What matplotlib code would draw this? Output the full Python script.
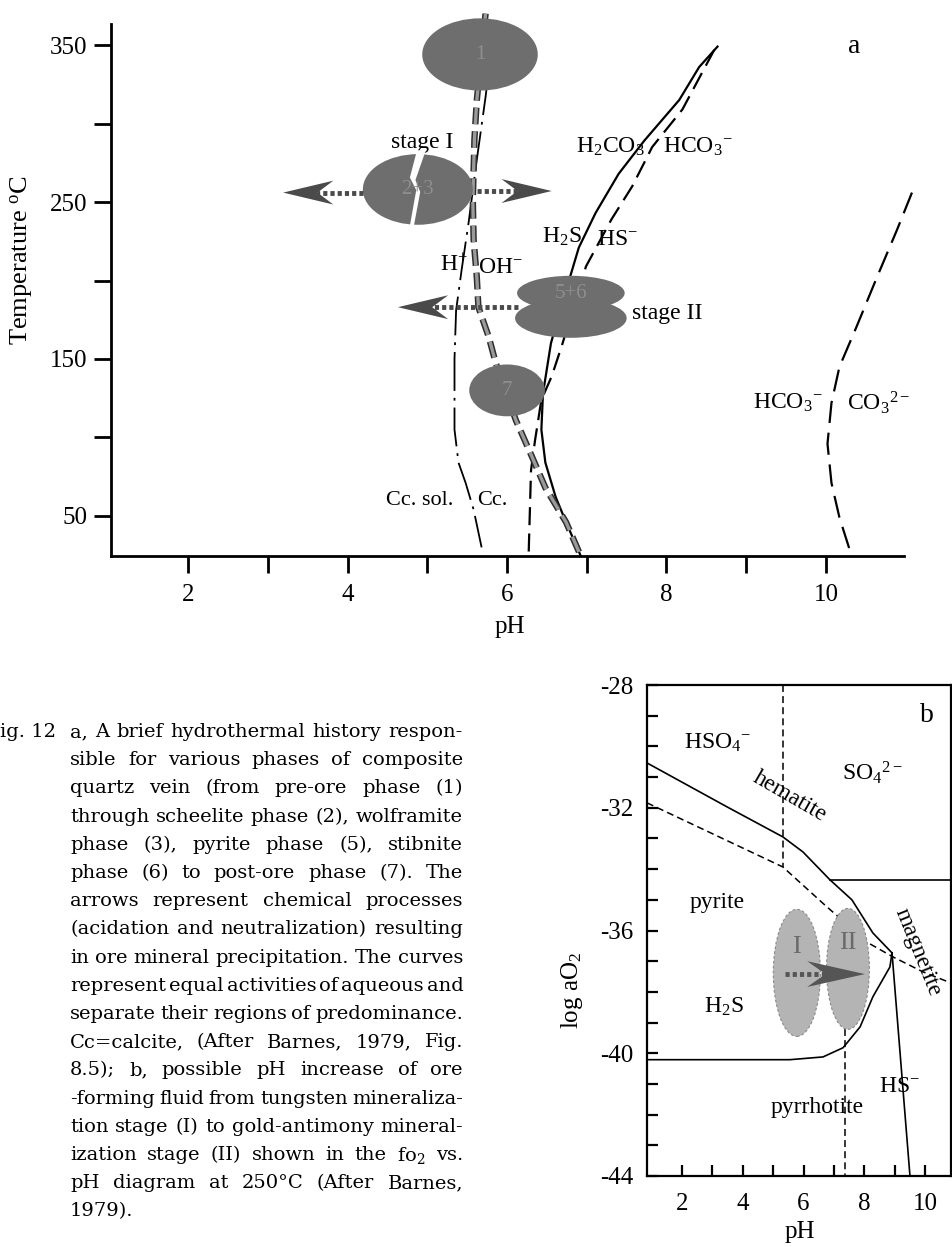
import matplotlib
matplotlib.use("Agg")
import matplotlib.pyplot as plt
from matplotlib.patches import Ellipse, Polygon

plt.rcParams["font.family"] = ["Liberation Serif", "STIXGeneral", "DejaVu Serif"]
plt.rcParams["mathtext.fontset"] = "stix"
plt.rcParams["mathtext.default"] = "regular"
plt.rcParams["axes.unicode_minus"] = False
plt.rcParams["lines.scale_dashes"] = False

# ---------------- panel a: T (degC) vs pH ----------------
cc_ph = [5.76, 5.73, 5.62, 5.52, 5.43, 5.36, 5.34, 5.34, 5.39, 5.48, 5.58, 5.68]
cc_t = [330, 317, 277, 238, 207, 181, 150, 105, 84, 71, 54, 30]

water_ph = [5.73, 5.62, 5.59, 5.57, 5.58, 5.62, 5.64, 5.77, 5.86, 6.11, 6.31, 6.48, 6.74, 6.92]
water_t = [370, 315, 290, 251, 226, 202, 183, 164, 147, 111, 88, 68, 46, 25]

h2s_ph = [8.64, 8.41, 8.16, 7.72, 7.40, 7.11, 6.90, 6.80, 6.67, 6.55, 6.45, 6.43, 6.48, 6.61, 6.74, 6.92]
h2s_t = [349, 336, 315, 289, 268, 243, 221, 204, 182, 160, 128, 105, 84, 62, 46, 25]

h2co3_ph = [8.60, 8.20, 7.82, 7.57, 7.31, 6.99, 6.69, 6.56, 6.43, 6.35, 6.30, 6.27]
h2co3_t = [347, 309, 285, 260, 239, 209, 159, 139, 124, 98, 79, 25]

hco3_ph = [11.08, 10.89, 10.64, 10.38, 10.17, 10.07, 10.02, 10.07, 10.17, 10.32]
hco3_t = [256, 232, 202, 170, 145, 122, 96, 71, 49, 25]

# phase ellipses: label, pH, T, width, height
phases_a = [("1", 5.66, 344, 1.45, 46),
            ("2+3", 4.88, 258, 1.38, 45),
            ("", 6.80, 176, 1.40, 25),
            ("5+6", 6.80, 192, 1.35, 22),
            ("7", 6.00, 130, 0.95, 33)]
split_ph = [4.87, 4.78, 4.86, 4.77, 4.82, 4.91, 4.85, 4.98]
split_t = [283, 265.6, 257.6, 232, 232, 256.4, 264, 283]

# process arrows: start pH, tip pH, T
arrows_a = [(4.19, 3.19, 256), (5.62, 6.56, 257), (6.14, 4.63, 183)]

# ---------------- panel b: log aO2 vs pH ----------------
py_hso4_ph = [0.85, 3.48, 5.32, 5.98, 6.87, 7.59, 8.28, 8.91]
py_hso4_y = [-30.54, -31.97, -32.95, -33.44, -34.35, -35.0, -36.08, -36.73]
hs_ph = [8.91, 9.50]
hs_y = [-36.73, -44.0]
po_ph = [8.91, 8.84, 8.28, 7.86, 7.30, 6.64, 5.55, 0.85]
po_y = [-36.73, -37.19, -38.16, -39.14, -39.82, -40.12, -40.21, -40.21]
mt_ph = [6.87, 10.85]
mt_y = [-34.35, -34.35]
hem_ph = [0.85, 5.32, 6.70, 8.12, 8.94, 9.93, 10.85]
hem_y = [-31.84, -33.93, -35.17, -36.40, -36.86, -37.35, -37.71]
vd1_ph, vd1_y = [5.32, 5.32], [-28.0, -33.93]
vd2_ph, vd2_y = [7.35, 7.35], [-39.2, -44.0]

phases_b = [("I", 5.78, -37.38, 1.55, 4.14), ("II", 7.46, -37.25, 1.41, 3.94)]
arrow_b = (5.39, 8.02, -37.42)

caption = [
    "a, A brief hydrothermal history respon-",
    "sible for various phases of composite",
    "quartz vein (from pre-ore phase (1)",
    "through scheelite phase (2), wolframite",
    "phase (3), pyrite phase (5), stibnite",
    "phase (6) to post-ore phase (7). The",
    "arrows represent chemical processes",
    "(acidation and neutralization) resulting",
    "in ore mineral precipitation. The curves",
    "represent equal activities of aqueous and",
    "separate their regions of predominance.",
    "Cc=calcite, (After Barnes, 1979, Fig.",
    "8.5); b, possible pH increase of ore",
    "-forming fluid from tungsten mineraliza-",
    "tion stage (I) to gold-antimony mineral-",
    "ization stage (II) shown in the fo$_2$ vs.",
    "pH diagram at 250\u00b0C (After Barnes,",
    "1979).",
]

W, H = 952, 1247
fig = plt.figure(figsize=(W / 100, H / 100), dpi=100)


def draw_arrow(ax, x0, x1, y, length, half, notch, color, zorder=6):
    d = 1 if x1 > x0 else -1
    back = x1 - d * length
    mid = x1 - d * (length - notch)
    ax.plot([x0, mid], [y, y], color=color, lw=3.5, dashes=(3, 2.2),
            solid_capstyle="butt", zorder=zorder)
    ax.add_patch(Polygon([(x1, y), (back, y + half), (mid, y), (back, y - half)],
                         closed=True, fc=color, ec="none", zorder=zorder + 1))


# ---------- panel a ----------
axa = fig.add_axes([111 / W, 1 - 556 / H, 793 / W, 532 / H])
axa.set_xlim(1.03, 10.98)
axa.set_ylim(24.5, 363.4)
for s in ["top", "right"]:
    axa.spines[s].set_visible(False)
for s in ["left", "bottom"]:
    axa.spines[s].set_linewidth(2)

axa.plot(cc_ph, cc_t, color="black", lw=1.3, dashes=(28, 5, 2, 5), zorder=2)
axa.plot(water_ph, water_t, color="#2e2e2e", lw=4.6, dashes=(12, 5),
         solid_capstyle="butt", zorder=3, clip_on=False)
axa.plot(water_ph, water_t, color="#9a9a9a", lw=2.4, dashes=(12, 5),
         solid_capstyle="butt", zorder=3, clip_on=False)
axa.plot(h2s_ph, h2s_t, color="black", lw=1.6, zorder=2)
axa.plot(h2co3_ph, h2co3_t, color="black", lw=1.6, dashes=(13, 6), zorder=2)
axa.plot(hco3_ph, hco3_t, color="black", lw=1.6, dashes=(16, 7), zorder=2,
         clip_on=False)

for lab, x, y, w, h in phases_a:
    axa.add_patch(Ellipse((x, y), w, h, fc="#6e6e6e", ec="none", zorder=4,
                          clip_on=False))
    if lab:
        axa.text(x, y, lab, fontsize=15, color="#8e8e8e", ha="center",
                 va="center", zorder=5)
axa.add_patch(Polygon(list(zip(split_ph, split_t)), closed=True, fc="white",
                      ec="none", zorder=4.5))

for x0, x1, y in arrows_a:
    draw_arrow(axa, x0, x1, y, 0.63, 7.6, 0.2, "#4a4a4a")

axa.set_yticks(range(50, 351, 50))
axa.set_yticklabels(["50", "", "150", "", "250", "", "350"])
axa.set_xticks(range(2, 11))
axa.set_xticklabels(["2", "", "4", "", "6", "", "8", "", "10"])
axa.tick_params(direction="out", length=12, width=2, labelsize=18, pad=5)
axa.tick_params(axis="x", pad=8)

tk = dict(fontsize=17, va="center")
axa.text(4.93, 288, "stage I", ha="center", **tk)
axa.text(5.16, 210, "H$^{+}$", ha="left", **tk)
axa.text(5.64, 208, "OH$^{-}$", ha="left", **tk)
axa.text(7.73, 285, "H$_2$CO$_3$", ha="right", **tk)
axa.text(7.96, 285, "HCO$_3$$^{-}$", ha="left", **tk)
axa.text(6.94, 228, "H$_2$S", ha="right", **tk)
axa.text(7.13, 226, "HS$^{-}$", ha="left", **tk)
axa.text(7.57, 179, "stage II", ha="left", **tk)
axa.text(9.08, 122, "HCO$_3$$^{-}$", ha="left", **tk)
axa.text(10.26, 122, "CO$_3$$^{2-}$", ha="left", **tk)
axa.text(5.32, 60, "Cc. sol.", ha="right", fontsize=16, va="center")
axa.text(5.62, 60, "Cc.", ha="left", fontsize=16, va="center")
axa.text(10.36, 349, "a", ha="center", fontsize=20, va="center")

fig.text(22 / W, 1 - 260 / H, "Temperature $^{o}$C", rotation=90, fontsize=19,
         ha="center", va="center")
fig.text(510 / W, 1 - 627 / H, "pH", fontsize=18, ha="center", va="center")

# ---------- panel b ----------
axb = fig.add_axes([647 / W, 1 - 1176 / H, 304 / W, 491 / H])
axb.set_xlim(0.85, 10.85)
axb.set_ylim(-44, -28)
for s in axb.spines.values():
    s.set_linewidth(1.6)

axb.plot(py_hso4_ph, py_hso4_y, color="black", lw=1.2)
axb.plot(hs_ph, hs_y, color="black", lw=1.2)
axb.plot(po_ph, po_y, color="black", lw=1.2)
axb.plot(mt_ph, mt_y, color="black", lw=1.2)
axb.plot(hem_ph, hem_y, color="black", lw=1.1, dashes=(5, 3))
axb.plot(vd1_ph, vd1_y, color="black", lw=1.1, dashes=(5, 3))
axb.plot(vd2_ph, vd2_y, color="black", lw=1.1, dashes=(5, 3))

for lab, x, y, w, h in phases_b:
    axb.add_patch(Ellipse((x, y), w, h, fc="#b4b4b4", ec="#8a8a8a", lw=0.8,
                          ls=(0, (2, 1.5)), zorder=4))
    axb.text(x, y + 0.85, lab, fontsize=19, color="#6a6a6a", ha="center",
             va="center", zorder=5)
draw_arrow(axb, arrow_b[0], arrow_b[1], arrow_b[2], 1.9, 0.42, 0.6, "#555555")

axb.set_yticks(range(-44, -27))
axb.set_yticklabels([str(v) if v % 4 == 0 else "" for v in range(-44, -27)])
axb.set_xticks(range(2, 11))
axb.set_xticklabels(["2", "", "4", "", "6", "", "8", "", "10"])
axb.tick_params(direction="in", length=8, width=1.6, labelsize=18)
axb.tick_params(axis="y", pad=10)
axb.tick_params(axis="x", pad=12)

bk = dict(fontsize=17, ha="center", va="center")
axb.text(3.18, -29.89, "HSO$_4$$^{-}$", **bk)
axb.text(8.25, -30.87, "SO$_4$$^{2-}$", **bk)
axb.text(10.06, -28.98, "b", fontsize=20, ha="center", va="center")
axb.text(5.55, -31.65, "hematite", rotation=-30, **bk)
axb.text(3.15, -35.1, "pyrite", **bk)
axb.text(9.76, -36.7, "magnetite", rotation=-68, **bk)
axb.text(3.38, -38.49, "H$_2$S", **bk)
axb.text(9.17, -41.09, "HS$^{-}$", **bk)
axb.text(6.44, -41.78, "pyrrhotite", **bk)

fig.text(572 / W, 1 - 990 / H, "log aO$_2$", rotation=90, fontsize=18,
         ha="center", va="center")
fig.text(800 / W, 1 - 1232 / H, "pH", fontsize=18, ha="center", va="center")

# ---------- caption, justified ----------
renderer = fig.canvas.get_renderer()
cap_font = dict(fontsize=14, va="center", family="DejaVu Serif")
fig.text(0, 1 - 732 / H, "ig. 12", **cap_font)


def put_line(text, x0, x1, y, justify):
    words = text.split(" ")
    arts = [fig.text(0, 1 - y / H, w, **cap_font) for w in words]
    widths = [a.get_window_extent(renderer).width for a in arts]
    if justify and len(words) > 1:
        gap = max(3, (x1 - x0 - sum(widths)) / (len(words) - 1))
    else:
        gap = 6
    x = x0
    for a, w in zip(arts, widths):
        a.set_x(x / W)
        x += w + gap


for i, line in enumerate(caption):
    put_line(line, 70, 463, 732 + i * 28.2, i < len(caption) - 1)

fig.savefig("out.png", dpi=100)
